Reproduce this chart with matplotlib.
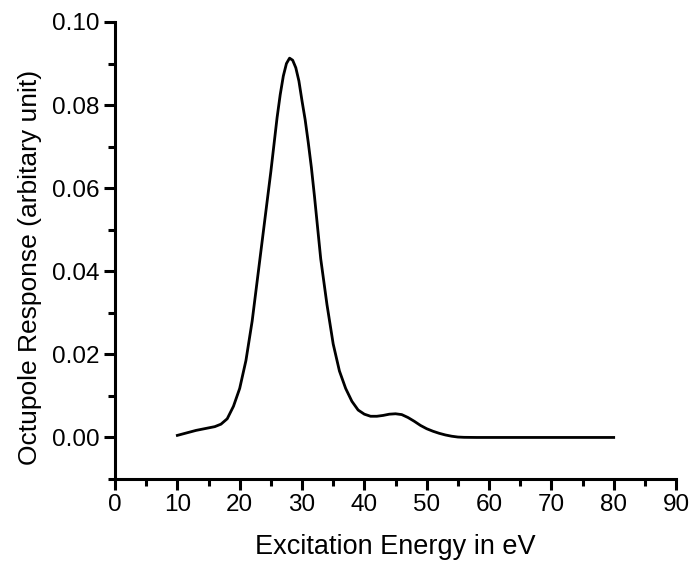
import matplotlib
matplotlib.use("Agg")
import matplotlib.pyplot as plt
from matplotlib.ticker import MultipleLocator, FormatStrFormatter

plt.rcParams['font.family'] = ['Liberation Sans', 'DejaVu Sans']

# excitation energy (eV) and octupole response
energy = [10, 11, 12, 13, 14, 15, 16, 17, 18, 19,
          20, 21, 22, 23, 24, 25, 25.5, 26, 26.5, 27, 27.5, 28, 28.5, 29, 29.5,
          30, 30.5, 31, 31.5, 32, 33, 34, 35, 36, 37, 38, 39,
          40, 41, 42, 43, 44, 45, 46, 47, 48, 49,
          50, 51, 52, 53, 54, 55, 56, 58, 60, 65, 70, 75, 80]
response = [0.0005, 0.0009, 0.0013, 0.0017, 0.0020, 0.0023, 0.0026, 0.0032, 0.0045, 0.0075,
            0.0118, 0.0185, 0.0280, 0.0400, 0.0520, 0.0640, 0.0705, 0.0770, 0.0825, 0.0870,
            0.0900, 0.0913, 0.0908, 0.0890, 0.0858,
            0.0810, 0.0765, 0.0710, 0.0650, 0.0580, 0.0430, 0.0320, 0.0225, 0.0160, 0.0118,
            0.0087, 0.0066,
            0.0056, 0.0051, 0.0051, 0.0053, 0.0056, 0.0057, 0.0055, 0.0048, 0.0039, 0.0029,
            0.0021, 0.0015, 0.0010, 0.0006, 0.0003, 0.0001, 0.00003, 0.0, 0.0, 0.0, 0.0, 0.0, 0.0]

fig = plt.figure(figsize=(6.95, 5.67), dpi=100)
ax = fig.add_axes([0.1655, 0.1552, 0.8072, 0.806])

ax.plot(energy, response, color='black', lw=2.0)

ax.set_xlim(0, 90)
ax.set_ylim(-0.01, 0.10)
ax.xaxis.set_major_locator(MultipleLocator(10))
ax.xaxis.set_minor_locator(MultipleLocator(5))
ax.set_yticks([0.0, 0.02, 0.04, 0.06, 0.08, 0.10])
ax.set_yticks([-0.01, 0.01, 0.03, 0.05, 0.07, 0.09], minor=True)
ax.yaxis.set_major_formatter(FormatStrFormatter('%.2f'))

for s in ['top', 'right']:
    ax.spines[s].set_visible(False)
for s in ['left', 'bottom']:
    ax.spines[s].set_linewidth(2.2)

ax.tick_params(which='major', direction='out', length=8, width=2.2, labelsize=17.5, pad=3)
ax.tick_params(which='minor', direction='out', length=5, width=2.2)

ax.set_xlabel('Excitation Energy in eV', fontsize=19.5)
ax.set_ylabel('Octupole Response (arbitary unit)', fontsize=19)
ax.xaxis.set_label_coords(0.5, -0.12)
ax.yaxis.set_label_coords(-0.13, 0.464)

plt.savefig('out.png', dpi=100)
